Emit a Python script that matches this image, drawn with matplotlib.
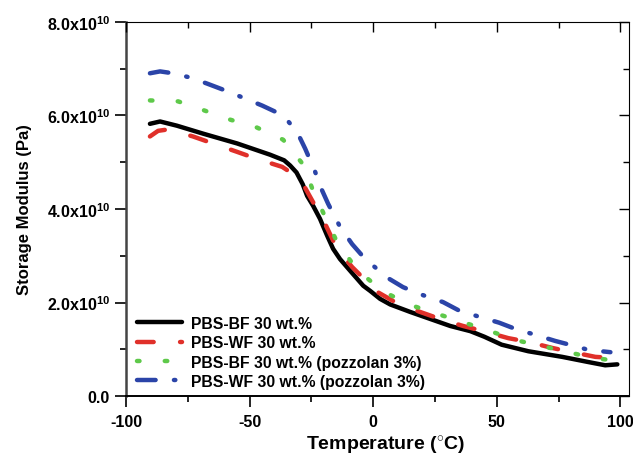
import matplotlib
matplotlib.use("Agg")
import matplotlib.pyplot as plt
from matplotlib.ticker import MultipleLocator, FuncFormatter

plt.rcParams['font.family'] = ['Liberation Sans', 'DejaVu Sans']
plt.rcParams['font.weight'] = 'bold'
plt.rcParams['mathtext.fontset'] = 'custom'
plt.rcParams['mathtext.rm'] = 'Liberation Sans'
plt.rcParams['mathtext.it'] = 'Liberation Sans:italic'
plt.rcParams['mathtext.bf'] = 'Liberation Sans:bold'
plt.rcParams['lines.scale_dashes'] = False

# Data (temperature in °C, storage modulus in units of 1e10 Pa)
bf_T = [-90.3, -86.2, -79.4, -68.8, -55, -41.7, -36, -33.6, -31, -28.5, -26.7, -24.3, -21.5,
        -18.6, -16.2, -13.4, -9.3, -4.0, -1.2, 2.8, 6.9, 15, 23.1, 31.2, 39.3, 45, 52, 62.8,
        76.5, 87, 93.9, 98.8]
bf_E = [5.82, 5.87, 5.78, 5.61, 5.40, 5.16, 5.04, 4.93, 4.78, 4.53, 4.28, 4.07, 3.79,
        3.43, 3.15, 2.93, 2.68, 2.36, 2.25, 2.08, 1.96, 1.80, 1.65, 1.50, 1.39, 1.27, 1.10, 0.96,
        0.84, 0.73, 0.66, 0.68]

wf_T = [-90.3, -87, -83, -72.9, -64.8, -55, -47, -36.8, -29.6, -23.5, -19.4, -14.6, -8.5,
        1.6, 8.9, 19, 27.1, 36.4, 44.5, 54.7, 62.8, 72.5, 80.6, 89.9, 98.8]
wf_E = [5.55, 5.67, 5.70, 5.55, 5.40, 5.22, 5.07, 4.90, 4.65, 4.07, 3.68, 3.15, 2.76,
        2.23, 2.01, 1.80, 1.65, 1.50, 1.39, 1.24, 1.16, 1.03, 0.94, 0.84, 0.81]

bfp_T = [-90.3, -78.9, -68, -57.9, -47, -36.4, -28.3, -24.3, -19.4, -14.2, -6.1, 4.0, 15,
         25.9, 36.4, 47.4, 57.5, 68.4, 79, 89.5, 95]
bfp_E = [6.32, 6.30, 6.10, 5.91, 5.74, 5.48, 4.95, 4.39, 3.83, 3.25, 2.68, 2.24, 1.95,
         1.76, 1.58, 1.39, 1.20, 1.07, 0.94, 0.81, 0.78]

wfp_T = [-90.3, -86.2, -81, -74.1, -67.2, -58.7, -51.8, -44.9, -36.4, -30.8, -27.5, -23.5,
         -21.1, -18.2, -13.4, -8.5, -3.2, 6.1, 12.1, 19, 28.3, 34.4, 42.1, 51, 57.9, 64.4,
         73.7, 80.2, 87, 96]
wfp_E = [6.90, 6.94, 6.90, 6.81, 6.68, 6.51, 6.36, 6.21, 6.00, 5.65, 5.29, 4.80,
         4.45, 4.11, 3.62, 3.25, 2.93, 2.52, 2.33, 2.18, 2.01, 1.84, 1.71, 1.57, 1.43, 1.33,
         1.18, 1.09, 0.99, 0.94]

labels = ['PBS-BF 30 wt.%', 'PBS-WF 30 wt.%',
          'PBS-BF 30 wt.% (pozzolan 3%)', 'PBS-WF 30 wt.% (pozzolan 3%)']
y_ticks = [0, 2, 4, 6, 8]
x_ticks = [-100, -50, 0, 50, 100]

fig = plt.figure(figsize=(6.33, 4.56), dpi=100)
ax = fig.add_axes([0.199, 0.129, 0.795, 0.821])

lw = 3.2
ax.plot(bf_T, bf_E, color='black', lw=lw, solid_capstyle='round', solid_joinstyle='round',
        label=labels[0])
ax.plot(wf_T, wf_E, color='#e0302a', lw=lw, dashes=(12, 19), dash_capstyle='round',
        dash_joinstyle='round', label=labels[1])
ax.plot(bfp_T, bfp_E, color='#5ec94a', lw=lw, dashes=(1.8, 18.2), dash_capstyle='round',
        label=labels[2])
ax.plot(wfp_T, wfp_E, color='#2b44a8', lw=lw, dashes=(13.4, 13.2, 1.0, 13.2),
        dash_capstyle='round', dash_joinstyle='round', label=labels[3])

ax.set_xlim(-100, 103.6)
ax.set_ylim(0, 8)
ax.set_xticks(x_ticks)
ax.set_yticks(y_ticks)
ax.xaxis.set_minor_locator(MultipleLocator(25))
ax.yaxis.set_minor_locator(MultipleLocator(1))

def yfmt(v, pos):
    if v == 0:
        return '0.0'
    return r'%.1fx10$^{\mathregular{10}}$' % v
ax.yaxis.set_major_formatter(FuncFormatter(yfmt))
ax.xaxis.set_major_formatter(FuncFormatter(lambda v, p: '%d' % v))

ax.tick_params(axis='both', which='major', labelsize=11.5, length=8, width=1.2, direction='out')
ax.tick_params(axis='both', which='minor', length=4, width=1.2, direction='out')
ax.tick_params(axis='x', which='major', pad=5)

for side in ['top', 'right']:
    ax.spines[side].set_linewidth(0.8)
ax.spines['left'].set_linewidth(1.8)
ax.spines['left'].set_color('#444444')
ax.spines['bottom'].set_linewidth(1.4)

# inward ticks on top and right
axt = ax.twiny()
axt.set_xlim(ax.get_xlim())
axt.set_xticks(x_ticks)
axt.xaxis.set_minor_locator(MultipleLocator(25))
axt.tick_params(axis='x', which='major', direction='in', length=7, width=1.0, labeltop=False)
axt.tick_params(axis='x', which='minor', direction='in', length=4, width=1.0)
axr = ax.twinx()
axr.set_ylim(ax.get_ylim())
axr.set_yticks(y_ticks)
axr.yaxis.set_minor_locator(MultipleLocator(1))
axr.tick_params(axis='y', which='major', direction='in', length=7, width=1.0, labelright=False)
axr.tick_params(axis='y', which='minor', direction='in', length=4, width=1.0)
for a in (axt, axr):
    for s in a.spines.values():
        s.set_visible(False)

ax.set_xlabel(r'Temperature ($^{\circ}$C)', fontsize=14, fontweight='bold')
ax.xaxis.set_label_coords(0.515, -0.1)
ax.set_ylabel('Storage Modulus (Pa)', fontsize=12, fontweight='bold')
ax.yaxis.set_label_coords(-0.187, 0.5)

leg = ax.legend(loc='lower left', bbox_to_anchor=(0.0, -0.01), frameon=False,
                fontsize=11.3, handlelength=2.87, labelspacing=0.28, handletextpad=0.57,
                borderaxespad=0.3)
for t in leg.get_texts():
    t.set_fontweight('bold')

fig.savefig('out.png', dpi=100)
